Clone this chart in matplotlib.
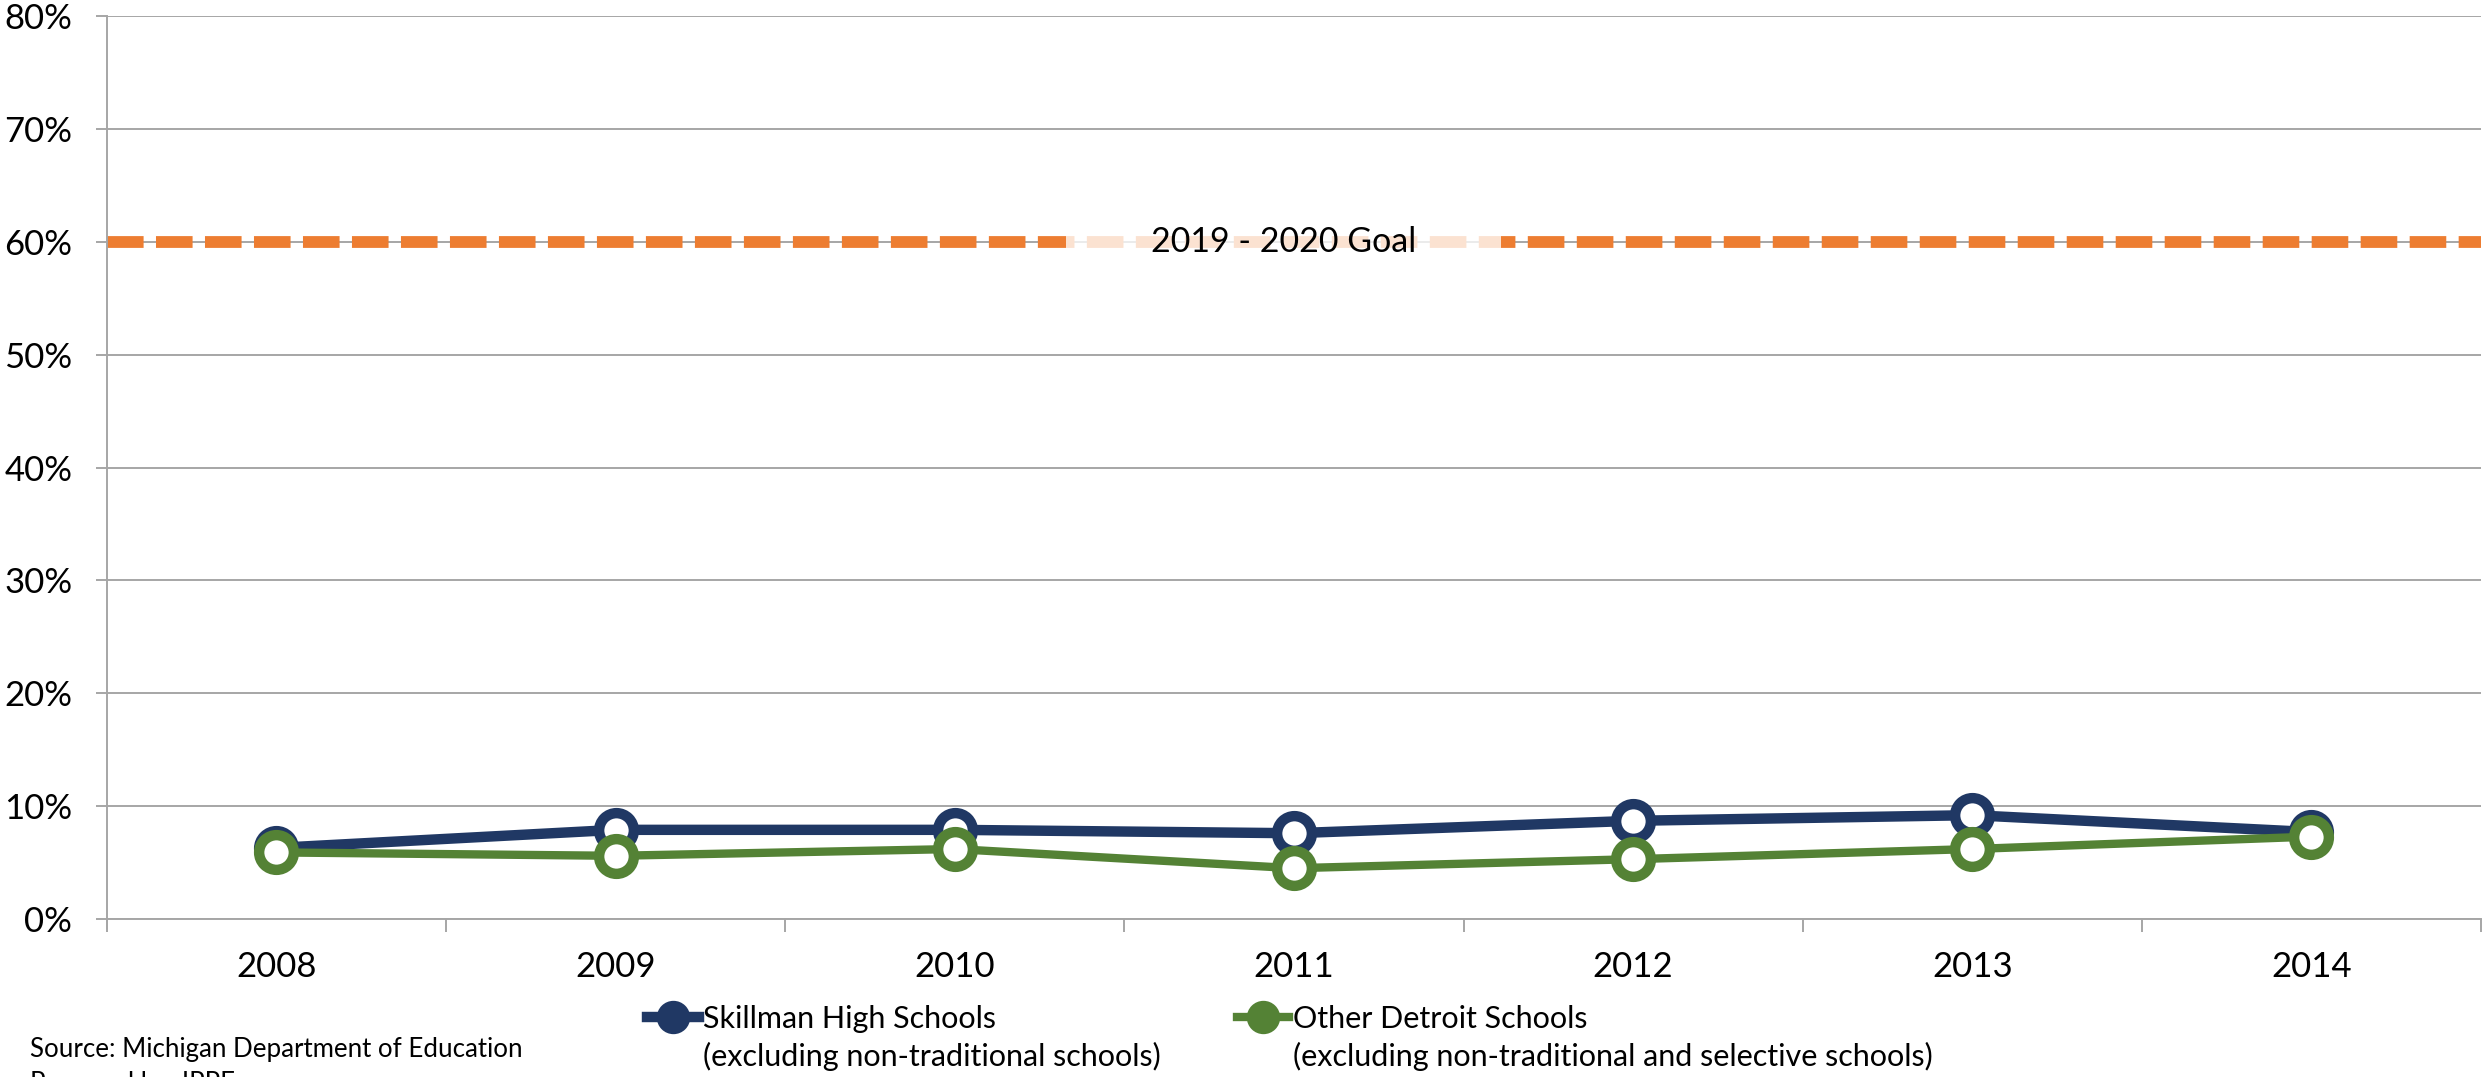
import matplotlib
matplotlib.use("Agg")
from matplotlib import pyplot as plt
from matplotlib.ticker import FixedLocator, PercentFormatter

plt.rcParams['font.family'] = ['Lato', 'DejaVu Sans']

years = ['2008', '2009', '2010', '2011', '2012', '2013', '2014']
skillman = [0.063, 0.079, 0.079, 0.076, 0.087, 0.092, 0.077]
other_detroit = [0.059, 0.056, 0.062, 0.045, 0.053, 0.062, 0.073]
goal = 0.60
goal_label = '2019 - 2020 Goal'
skillman_label = ['Skillman High Schools', '(excluding non-traditional schools)']
other_label = ['Other Detroit Schools', '(excluding non-traditional and selective schools)']

navy = '#203864'
green = '#548235'
orange = '#ED7D31'
grid_gray = '#A6A6A6'

fig = plt.figure(figsize=(24.86, 10.77), dpi=100)
ax = fig.add_axes([0.043, 0.1467, 0.955, 0.8384])

x = list(range(len(years)))
ax.set_xlim(-0.5, len(years) - 0.5)
ax.set_ylim(0, 0.8)

# gridlines + goal line
ax.set_yticks([i / 10 for i in range(9)])
ax.yaxis.set_major_formatter(PercentFormatter(1.0, decimals=0))
ax.grid(axis='y', color=grid_gray, linewidth=1.4, zorder=0)
ax.set_axisbelow(True)
ax.axhline(goal, color=orange, linewidth=8.5, dashes=(3.1, 1.05), zorder=2)
ax.text(2.97, goal, goal_label, ha='center', va='center', fontsize=24.5,
        zorder=4, bbox=dict(boxstyle='square,pad=2.5', facecolor='white', edgecolor='none', alpha=0.78))

line_kw = dict(marker='o', markersize=25, markerfacecolor='white', markeredgewidth=7.5, zorder=5)
h1, = ax.plot(x, skillman, color=navy, linewidth=7.5, markeredgecolor=navy, **line_kw)
h2, = ax.plot(x, other_detroit, color=green, linewidth=6, markeredgecolor=green, **line_kw)

# category ticks on boundaries, labels at centers
ax.xaxis.set_major_locator(FixedLocator([i - 0.5 for i in range(len(years) + 1)]))
ax.xaxis.set_minor_locator(FixedLocator(x))
ax.set_xticklabels([], minor=False)
ax.set_xticklabels(years, minor=True)
ax.tick_params(axis='x', which='major', length=9, width=1.4, color=grid_gray)
ax.tick_params(axis='x', which='minor', length=0, pad=23, labelsize=25)
ax.tick_params(axis='y', length=8, width=1.4, color=grid_gray, pad=17, labelsize=25)

for s in ['top', 'right']:
    ax.spines[s].set_visible(False)
ax.spines['left'].set_color(grid_gray)
ax.spines['left'].set_linewidth(1.4)
ax.spines['left'].set_bounds(-0.008, 0.8)
ax.spines['bottom'].set_color(grid_gray)
ax.spines['bottom'].set_linewidth(1.4)

# legend: first line in legend, second line as text beneath it
leg_kw = dict(loc='center left', frameon=False, fontsize=22, handlelength=1.7,
              handletextpad=0.15, borderpad=0, borderaxespad=0)
leg1 = fig.legend([h1], [skillman_label[0]], bbox_to_anchor=(0.2602, 0.0539), **leg_kw)
leg2 = fig.legend([h2], [other_label[0]], bbox_to_anchor=(0.4975, 0.0539), **leg_kw)
for leg in (leg1, leg2):
    for lh in leg.legend_handles:
        lh.set_markersize(19)
        lh.set_markeredgewidth(5)
        lh.set_markerfacecolor(lh.get_color())

fig.canvas.draw()
inv = fig.transFigure.inverted()
for leg, lab in ((leg1, skillman_label), (leg2, other_label)):
    bb = leg.get_texts()[0].get_window_extent()
    x0 = inv.transform((bb.x0, bb.y0))[0]
    fig.text(x0, 0.0195, lab[1], ha='left', va='center', fontsize=22)

fig.text(0.012, 0.0251, 'Source: Michigan Department of Education', ha='left', va='center', fontsize=18.6)
fig.text(0.012, -0.006, 'Prepared by: IPPE', ha='left', va='center', fontsize=18.6)

fig.savefig('out.png', dpi=100)
